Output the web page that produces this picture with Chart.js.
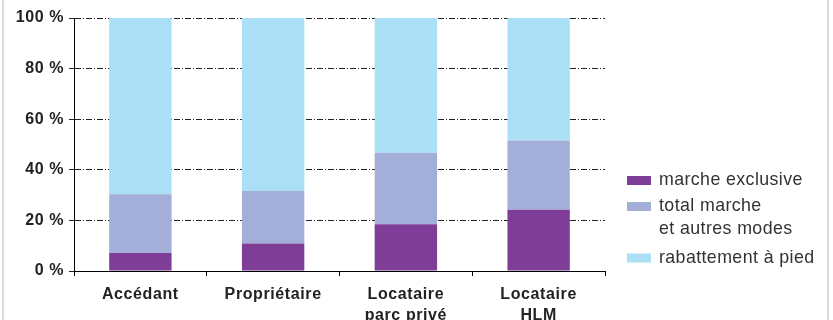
<!DOCTYPE html>
<html><head><meta charset="utf-8">
<script src="https://cdn.jsdelivr.net/npm/chart.js@4/dist/chart.umd.min.js"></script>
<style>html,body{margin:0;padding:0;background:#fff;}#wrap{width:833px;height:320px;position:relative;}</style>
</head><body><div id="wrap"><canvas id="c" width="833" height="320"></canvas></div>
<script>
const categories = [["Accédant"], ["Propriétaire"], ["Locataire", "parc privé"], ["Locataire", "HLM"]];
const marcheExclusive = [7.1, 10.9, 18.5, 24.2];
const totalMarcheAutres = [23.2, 20.7, 28.2, 27.4];
const rabattementPied = [69.7, 68.4, 53.3, 48.4];
const seriesLabels = ["marche exclusive", ["total marche", "et autres modes"], "rabattement à pied"];
const yTicks = [0, 20, 40, 60, 80, 100];

const FONT = "'Liberation Sans', Arial, sans-serif";

const spacingPlugin = {
  id: 'spacing',
  beforeUpdate(chart) { chart.ctx.letterSpacing = '0.6px'; },
  beforeDraw(chart) { chart.ctx.letterSpacing = '0.6px'; }
};

const legendPlugin = {
  id: 'customLegend',
  afterDraw(chart) {
    const ctx = chart.ctx;
    ctx.save();
    ctx.fillStyle = '#dadada';
    ctx.fillRect(2, 0, 2, 320);
    ctx.fillRect(827, 0, 2, 320);
    const ys = [180.5, 206.5, 258];
    ctx.letterSpacing = '0.4px';
    ctx.font = '17.8px ' + FONT;
    ctx.textBaseline = 'middle';
    ctx.textAlign = 'left';
    chart.data.datasets.forEach((ds, i) => {
      ctx.fillStyle = ds.backgroundColor;
      ctx.fillRect(627, ys[i] - 4.5, 24, 9);
      ctx.fillStyle = '#333';
      const lines = Array.isArray(ds.label) ? ds.label : [ds.label];
      lines.forEach((t, j) => ctx.fillText(t, 659, ys[i] + j * 22.5));
    });
    ctx.restore();
  }
};

new Chart(document.getElementById('c'), {
  type: 'bar',
  data: {
    labels: categories,
    datasets: [
      { label: seriesLabels[0], data: marcheExclusive, backgroundColor: '#7e3d96' },
      { label: seriesLabels[1], data: totalMarcheAutres, backgroundColor: '#a3afd8' },
      { label: seriesLabels[2], data: rabattementPied, backgroundColor: '#abdff6' }
    ]
  },
  options: {
    responsive: false,
    animation: false,
    events: [],
    layout: { padding: { left: 0, right: 228, top: 18, bottom: 0 } },
    datasets: { bar: { barPercentage: 0.47, categoryPercentage: 1, borderWidth: 0 } },
    plugins: { legend: { display: false }, tooltip: { enabled: false } },
    scales: {
      x: {
        stacked: true,
        afterFit(s) { s.height = 49; },
        grid: { offset: true, drawOnChartArea: false, drawTicks: true, tickLength: 5, color: '#000', lineWidth: 1 },
        border: { display: true, color: '#000', width: 1 },
        ticks: { color: '#222', font: { family: FONT, size: 16, weight: 'bold', lineHeight: 1.3 }, padding: 8, maxRotation: 0, autoSkip: false }
      },
      y: {
        stacked: true,
        min: 0, max: 100,
        afterFit(s) { s.width = 74; },
        afterBuildTicks(s) { s.ticks = yTicks.map(v => ({ value: v })); },
        grid: { color: '#222', lineWidth: 1, tickLength: 5, drawTicks: true },
        border: { display: true, color: '#000', width: 1, dash: [6, 2, 1, 2] },
        ticks: { color: '#222', font: { family: FONT, size: 16, weight: 'bold' }, padding: 5, callback: v => v + ' %' }
      }
    }
  },
  plugins: [spacingPlugin, legendPlugin]
});
</script></body></html>
